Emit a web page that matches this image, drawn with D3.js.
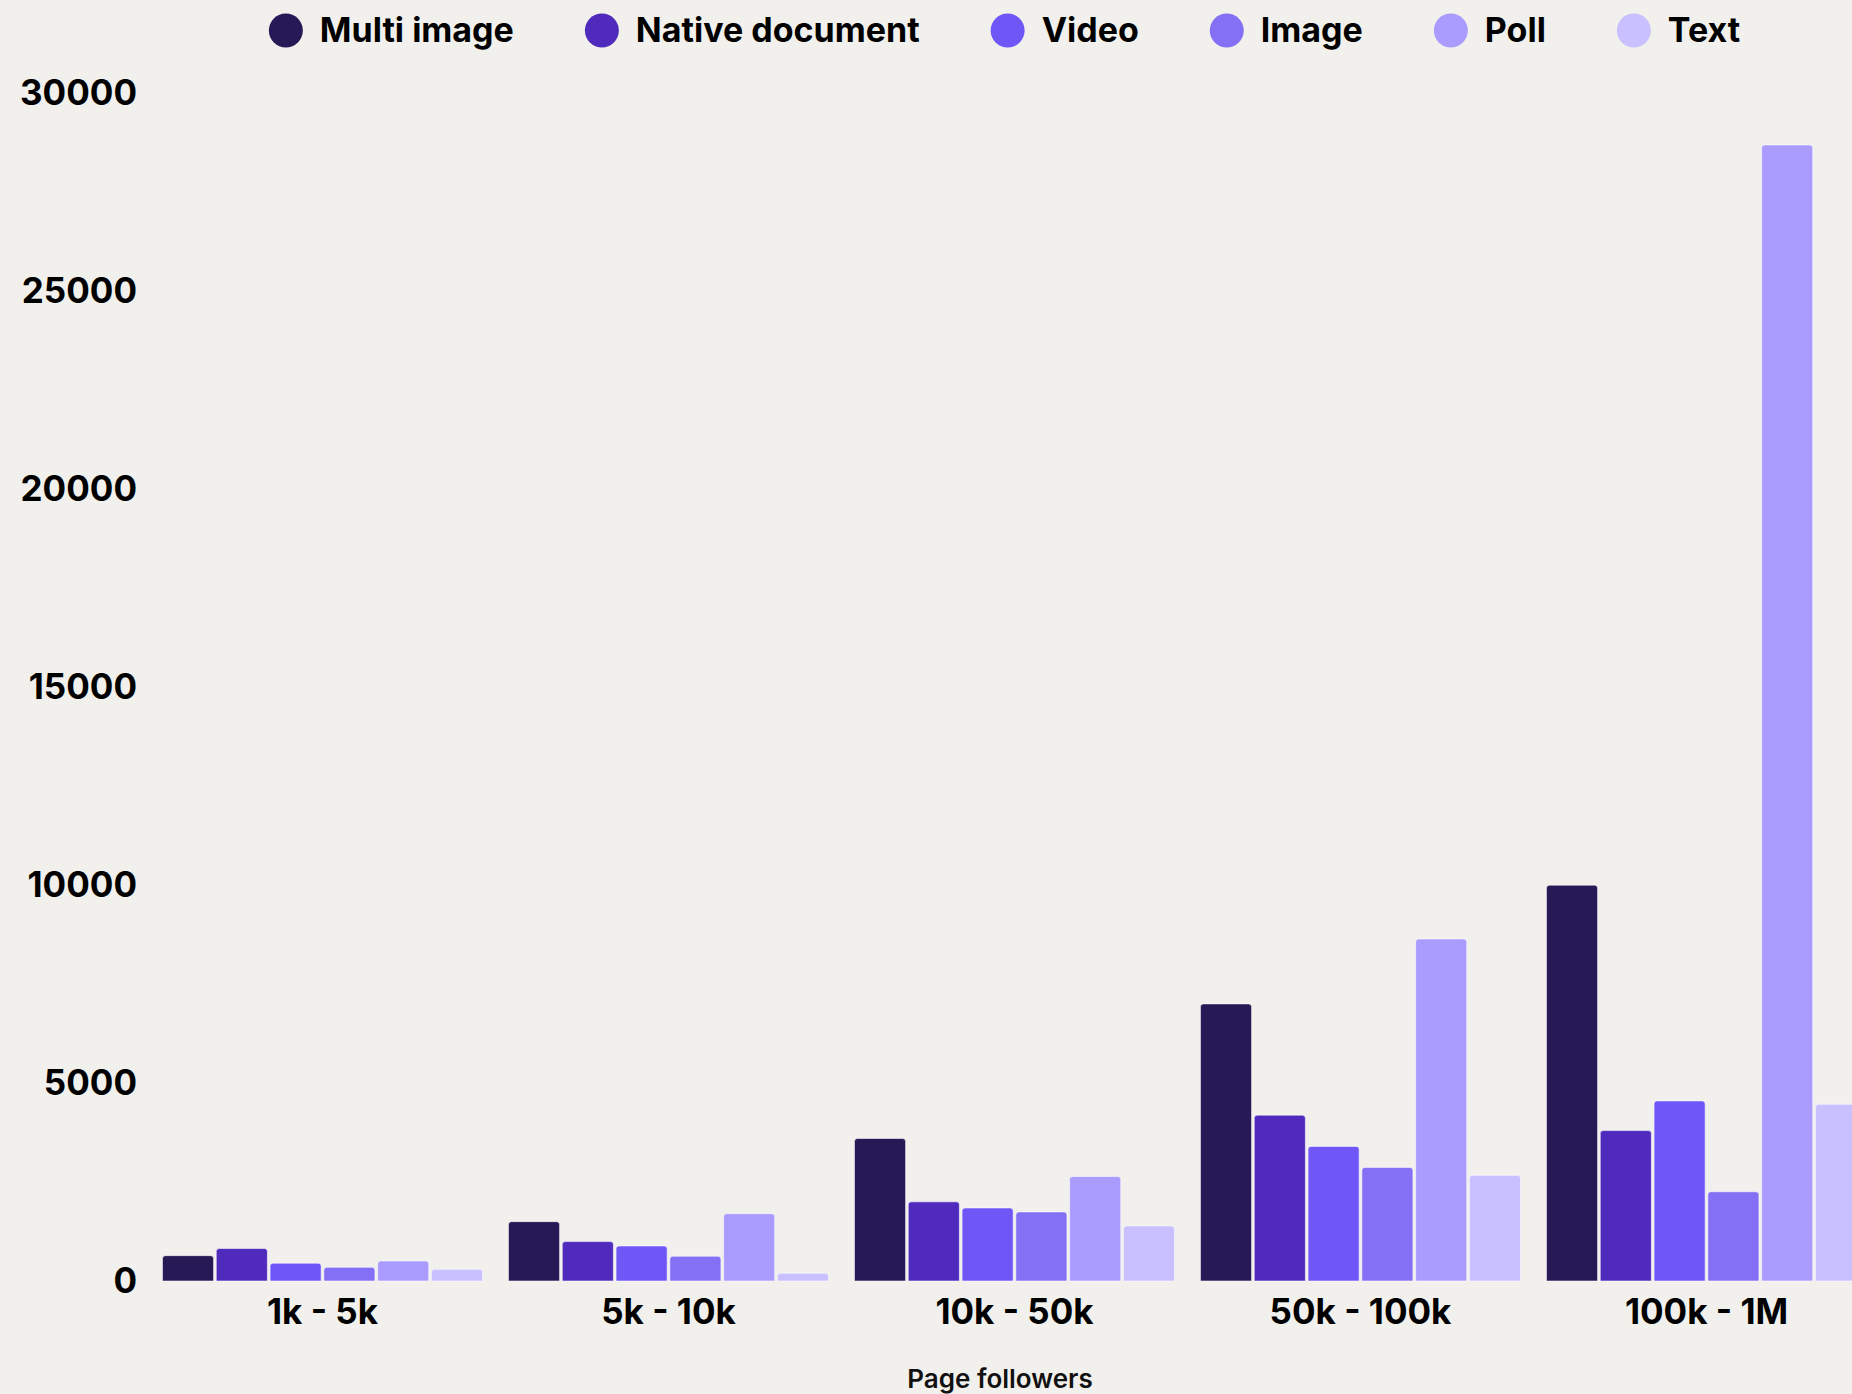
<!DOCTYPE html>
<html>
<head>
<meta charset="utf-8">
<script src="https://cdn.jsdelivr.net/npm/d3@7"></script>
<style>
    html, body { margin: 0; padding: 0; background: #f1f0ec; overflow: hidden; }
    svg { display: block; font-family: Inter, "Noto Sans", sans-serif; }
</style>
</head>
<body>
<svg id="bar-chart" width="1852" height="1394"></svg>
<script>
// Grupos de seguidores y series de formato
const categories = ['1k - 5k', '5k - 10k', '10k - 50k', '50k - 100k', '100k - 1M'];
const seriesNames = ['Multi image', 'Native document', 'Video', 'Image', 'Poll', 'Text'];
const seriesColors = ['#271856', '#4f2abd', '#6e56f7', '#8470f5', '#aa9cff', '#c8c0ff'];

const multiImage = [640, 1500, 3600, 7000, 10000];
const nativeDocument = [820, 995, 2000, 4190, 3800];
const video = [450, 885, 1845, 3400, 4550];
const image = [345, 625, 1745, 2870, 2255];
const poll = [505, 1700, 2640, 8640, 28700];
const text = [295, 195, 1390, 2670, 4465];

const yTicks = [0, 5000, 10000, 15000, 20000, 25000, 30000];
const xTitle = 'Page followers';

const seriesValues = [multiImage, nativeDocument, video, image, poll, text];

document.addEventListener('DOMContentLoaded', () => {
    const svg = d3.select('#bar-chart');

    const baseY = 1281;
    const topY = 93.5;

    const x0 = d3.scaleBand()
        .domain(categories)
        .range([149.5, 1879.5])
        .paddingInner(0.075)
        .paddingOuter(0.0375);

    const x1 = d3.scaleBand()
        .domain(seriesNames)
        .range([0, x0.bandwidth()])
        .paddingInner(0.05)
        .paddingOuter(0);

    const y = d3.scaleLinear()
        .domain([0, 30000])
        .range([baseY, topY]);

    const color = d3.scaleOrdinal().domain(seriesNames).range(seriesColors);

    // Filas por grupo: una barra por serie
    const rows = categories.map((cat, i) => ({
        cat,
        bars: seriesNames.map((name, s) => ({ name, value: seriesValues[s][i] }))
    }));

    // Rectángulo con esquinas superiores redondeadas
    function topRounded(x, yTop, w, h, r) {
        r = Math.min(r, h, w / 2);
        return `M${x},${yTop + h}V${yTop + r}Q${x},${yTop} ${x + r},${yTop}` +
            `H${x + w - r}Q${x + w},${yTop} ${x + w},${yTop + r}V${yTop + h}Z`;
    }

    svg.append('g')
        .selectAll('g')
        .data(rows)
        .join('g')
        .attr('transform', d => `translate(${x0(d.cat)},0)`)
        .selectAll('path')
        .data(d => d.bars)
        .join('path')
        .attr('d', d => topRounded(x1(d.name), y(d.value), x1.bandwidth(), baseY - y(d.value), 3))
        .attr('fill', d => color(d.name))
        .attr('stroke', '#ffffff')
        .attr('stroke-opacity', 0.55)
        .attr('stroke-width', 1);

    // Eje Y
    const yAxis = svg.append('g')
        .attr('transform', 'translate(137,0)')
        .call(d3.axisLeft(y).tickValues(yTicks).tickSize(0).tickPadding(0).tickFormat(d3.format('d')));
    yAxis.select('.domain').remove();
    yAxis.selectAll('text')
        .attr('fill', '#000')
        .attr('font-size', 35)
        .attr('font-weight', 700)
        .attr('font-family', 'Inter, sans-serif');

    // Eje X
    const xAxis = svg.append('g')
        .attr('transform', `translate(0,${baseY})`)
        .call(d3.axisBottom(x0).tickSize(0).tickPadding(18));
    xAxis.select('.domain').remove();
    xAxis.selectAll('text')
        .attr('fill', '#000')
        .attr('font-size', 35)
        .attr('font-weight', 700)
        .attr('font-family', 'Inter, sans-serif');

    svg.append('text')
        .attr('x', 1000)
        .attr('y', 1388)
        .attr('text-anchor', 'middle')
        .attr('font-size', 26)
        .attr('font-weight', 600)
        .attr('fill', '#111')
        .text(xTitle);

    // Leyenda centrada arriba
    const legend = svg.append('g');
    const items = legend.selectAll('g')
        .data(seriesNames)
        .join('g');
    items.append('circle')
        .attr('r', 17)
        .attr('cy', 30.5)
        .attr('fill', d => color(d));
    items.append('text')
        .attr('x', 34)
        .attr('y', 42)
        .attr('font-size', 34)
        .attr('font-weight', 700)
        .attr('fill', '#000')
        .text(d => d);

    let cursor = 0;
    items.each(function () {
        const g = d3.select(this);
        const w = g.select('text').node().getComputedTextLength();
        g.attr('transform', `translate(${cursor},0)`);
        cursor += 34 + w + 88;
    });
    const legendWidth = cursor - 88 + 17;
    legend.attr('transform', `translate(${1004.5 - legendWidth / 2 + 17},0)`);
});
</script>
</body>
</html>
